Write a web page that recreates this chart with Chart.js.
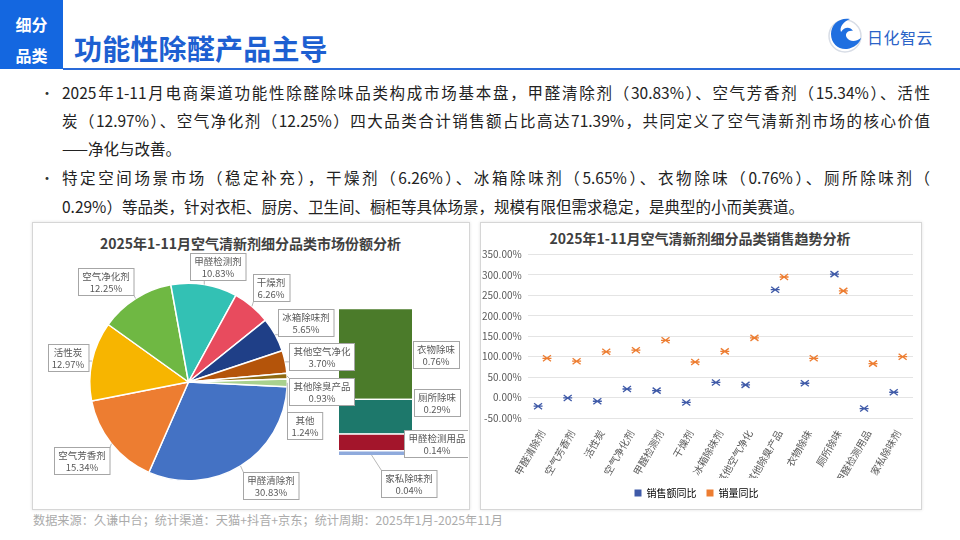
<!DOCTYPE html>
<html><head><meta charset="utf-8">
<script src="https://cdn.jsdelivr.net/npm/chart.js@4.4.1/dist/chart.umd.min.js"></script>
<style>
html,body{margin:0;padding:0}
body{width:960px;height:540px;position:relative;background:#fff;font-family:"Noto Sans CJK SC","Noto Sans",sans-serif;overflow:hidden;color:#222}
.abs{position:absolute}
#tag{left:0;top:0;width:63px;height:69px;background:#1467e0;color:#fff;font-weight:bold;font-size:16px;text-align:center}
#tag div{position:absolute;left:0;width:63px;line-height:20px}
#title{left:74px;top:30px;font-size:28px;font-weight:bold;color:#1d5fd1;line-height:36px;letter-spacing:0.2px}
#rule{left:63px;top:68px;width:897px;height:2px;background:#2a6ad8}
#logoText{left:867px;top:26px;font-size:16px;color:#2b63c8;line-height:22px;letter-spacing:0.5px}
.bl{position:absolute;left:40px;font-size:14px;line-height:24px;color:#333}
.ln{position:absolute;left:62px;width:868px;font-size:15.5px;line-height:24px;color:#222;white-space:nowrap}
.j{text-align:justify;text-align-last:justify;white-space:normal}
.panel{position:absolute;top:222px;height:286px;border:1px solid #d6d6d6;box-shadow:0 0 3px rgba(0,0,0,0.12);background:transparent}
.ctitle{position:absolute;font-size:14px;font-weight:bold;color:#404040;text-align:center;line-height:18px;white-space:nowrap}
#footer{left:33px;top:512px;font-size:12.2px;color:#ababab;line-height:16px;white-space:nowrap}
canvas{position:absolute}
</style>
</head><body>

<div id="tag" class="abs"><div style="top:14px">细分</div><div style="top:45px">品类</div></div>
<div id="title" class="abs">功能性除醛产品主导</div>
<div id="rule" class="abs"></div>
<svg class="abs" style="left:826px;top:14px" width="40" height="42" viewBox="0 0 40 42">
  <circle cx="19" cy="22" r="16" fill="none" stroke="#d8dde6" stroke-width="1.5"/>
  <path d="M24 5 C14 3 5 10 5 20 C5 30 13 36 21 35 C28 34 34 29 35 24 C30 28 24 28 21 24 C18 20 22 16 27 17 C24 12 18 13 15 18 C13 13 18 7 24 5 Z" fill="#1f6fe0"/>
</svg>
<div id="logoText" class="abs">日化智云</div>

<div class="bl" style="top:80px">•</div>
<div class="ln j" style="top:80px">2025年1-11月电商渠道功能性除醛除味品类构成市场基本盘，甲醛清除剂（30.83%）、空气芳香剂（15.34%）、活性</div>
<div class="ln j" style="top:108px">炭（12.97%）、空气净化剂（12.25%）四大品类合计销售额占比高达71.39%，共同定义了空气清新剂市场的核心价值</div>
<div class="ln" style="top:136px">——净化与改善。</div>
<div class="bl" style="top:165px">•</div>
<div class="ln j" style="top:165px">特定空间场景市场（稳定补充），干燥剂（6.26%）、冰箱除味剂（5.65%）、衣物除味（0.76%）、厕所除味剂（</div>
<div class="ln" style="top:194px">0.29%）等品类，针对衣柜、厨房、卫生间、橱柜等具体场景，规模有限但需求稳定，是典型的小而美赛道。</div>

<div class="panel" style="left:32px;width:436px"></div>
<div class="panel" style="left:480px;width:440px"></div>
<div class="ctitle" style="left:33px;width:435px;top:234px">2025年1-11月空气清新剂细分品类市场份额分析</div>
<div class="ctitle" style="left:480px;width:440px;top:229px">2025年1-11月空气清新剂细分品类销售趋势分析</div>

<canvas id="barOfPie" style="left:33px;top:222px;z-index:1" width="435" height="286"></canvas>
<canvas id="pie" style="left:33px;top:222px;z-index:2" width="435" height="286"></canvas>
<canvas id="trend" style="left:480px;top:222px;z-index:1" width="440" height="286"></canvas>

<div id="footer" class="abs">数据来源：久谦中台；统计渠道：天猫+抖音+京东；统计周期：2025年1月-2025年11月</div>

<script>
// ---------------- data ----------------
const pieCategories = ['甲醛清除剂','空气芳香剂','活性炭','空气净化剂','甲醛检测剂','干燥剂','冰箱除味剂','其他空气净化','其他除臭产品','其他'];
const pieShares = [30.83, 15.34, 12.97, 12.25, 10.83, 6.26, 5.65, 3.70, 0.93, 1.24];
const otherCategories = ['家私除味剂','甲醛检测用品','厕所除味','衣物除味'];
const otherShares = [0.04, 0.14, 0.29, 0.76];
const trendCategories = ['甲醛清除剂','空气芳香剂','活性炭','空气净化剂','甲醛检测剂','干燥剂','冰箱除味剂','其他空气净化','其他除臭产品','衣物除味','厕所除味','甲醛检测用品','家私除味剂'];
const salesYoY = [-21, -1, -9, 21, 17, -12, 37, 31, 264, 35, 302, -27, 13];
const volumeYoY = [96, 89, 112, 116, 140, 87, 113, 146, 295, 96, 261, 83, 100];
const trendSeriesNames = ['销售额同比','销量同比'];

// ---------------- styles / layout ----------------
const pieColors = ['#4472c4','#ed7d31','#f7b500','#6fb843','#33c1b4','#e84b5e','#1f3f87','#b4540a','#8f6a12','#a9d18e'];
const otherColors = ['#8faadc','#a3152b','#1d786b','#4b7b2a'];
const trendColors = ['#3f5aa8','#ed7d31'];
// callout box centres (canvas px) for pie slices and for the column segments
const pieLabelCentres = [[238,263],[49,238],[35,135],[73,59],[185,44],[238,65],[273,100],[289,134],[289,169],[272,203]];
const otherLabelCentres = [[376,261],[404,221],[404,180],[403,132]];
const labelFont = '9.5px "Noto Sans CJK SC", "Noto Sans", sans-serif';

Chart.defaults.font.family = '"Noto Sans CJK SC","Noto Sans",sans-serif';
Chart.defaults.animation = false;

function drawCallout(ctx, cx, cy, lines, anchor) {
  ctx.save();
  ctx.font = labelFont;
  const w = Math.max(...lines.map(s => ctx.measureText(s).width)) + 8;
  const h = 27;
  const x0 = Math.round(cx - w/2) + 0.5, y0 = Math.round(cy - h/2) + 0.5;
  if (anchor) {
    const px = Math.min(Math.max(anchor[0], x0), x0 + w);
    const py = Math.min(Math.max(anchor[1], y0), y0 + h);
    if (Math.hypot(px - anchor[0], py - anchor[1]) > 3) {
      ctx.strokeStyle = '#a6a6a6'; ctx.lineWidth = 0.8;
      ctx.beginPath(); ctx.moveTo(anchor[0], anchor[1]); ctx.lineTo(px, py); ctx.stroke();
    }
  }
  ctx.fillStyle = '#fff';
  ctx.fillRect(x0, y0, w, h);
  ctx.strokeStyle = '#a6a6a6'; ctx.lineWidth = 1;
  ctx.strokeRect(x0, y0, w, h);
  ctx.fillStyle = '#595959';
  ctx.textAlign = 'center'; ctx.textBaseline = 'middle';
  ctx.fillText(lines[0], cx, y0 + 7.5);
  ctx.fillText(lines[1], cx, y0 + 19.5);
  ctx.restore();
}

const pieLabelPlugin = {
  id: 'pieLabels',
  afterDatasetsDraw(chart) {
    const ctx = chart.ctx;
    chart.getDatasetMeta(0).data.forEach((arc, i) => {
      const p = arc.getProps(['x','y','startAngle','endAngle','outerRadius'], true);
      const mid = (p.startAngle + p.endAngle) / 2;
      const ax = p.x + Math.cos(mid) * p.outerRadius;
      const ay = p.y + Math.sin(mid) * p.outerRadius;
      const c = pieLabelCentres[i];
      drawCallout(ctx, c[0], c[1], [pieCategories[i], pieShares[i].toFixed(2) + '%'], [ax, ay]);
    });
  }
};

new Chart(document.getElementById('pie'), {
  type: 'pie',
  data: { labels: pieCategories, datasets: [{ data: pieShares, backgroundColor: pieColors, borderColor: '#ffffff', borderWidth: 1.5 }] },
  options: {
    responsive: false, rotation: 92.7,
    layout: { padding: { left: 56, right: 180, top: 60.5, bottom: 26.5 } },
    plugins: { legend: { display: false }, tooltip: { enabled: false } },
    events: []
  },
  plugins: [pieLabelPlugin]
});

const otherLabelPlugin = {
  id: 'otherLabels',
  afterDatasetsDraw(chart) {
    const ctx = chart.ctx;
    otherShares.forEach((v, i) => {
      const bar = chart.getDatasetMeta(i).data[0];
      const p = bar.getProps(['x','y','base','width'], true);
      const anchor = i === 0 ? [p.x - 4, p.base] : [p.x + p.width/2, (p.y + p.base)/2];
      const c = otherLabelCentres[i];
      drawCallout(ctx, c[0], c[1], [otherCategories[i], v.toFixed(2) + '%'], anchor);
    });
  }
};

new Chart(document.getElementById('barOfPie'), {
  type: 'bar',
  data: {
    labels: ['其他'],
    datasets: otherCategories.map((name, i) => ({
      label: name, data: [otherShares[i]], backgroundColor: otherColors[i],
      borderColor: '#ffffff', borderWidth: { top: 1.5 }, borderSkipped: false,
      barPercentage: 1, categoryPercentage: 1
    }))
  },
  options: {
    responsive: false,
    layout: { padding: { left: 306, right: 56, top: 86, bottom: 53 } },
    scales: {
      x: { stacked: true, display: false },
      y: { stacked: true, display: false, min: 0, max: otherShares.reduce((a, b) => a + b, 0) }
    },
    plugins: { legend: { display: false }, tooltip: { enabled: false } },
    events: []
  },
  plugins: [otherLabelPlugin]
});

// ---------------- trend chart ----------------
function drawMarker(ctx, x, y, color) {
  ctx.save();
  ctx.strokeStyle = color; ctx.lineWidth = 1.3;
  ctx.beginPath();
  ctx.moveTo(x - 4, y - 3); ctx.lineTo(x + 4, y + 3);
  ctx.moveTo(x - 4, y + 3); ctx.lineTo(x + 4, y - 3);
  ctx.moveTo(x - 4.5, y); ctx.lineTo(x + 4.5, y);
  ctx.stroke();
  ctx.restore();
}
const markerPlugin = {
  id: 'markers',
  afterDatasetsDraw(chart) {
    chart.data.datasets.forEach((ds, di) => {
      chart.getDatasetMeta(di).data.forEach(el => {
        const p = el.getProps(['x','y'], true);
        drawMarker(chart.ctx, p.x, p.y, trendColors[di]);
      });
    });
  }
};

new Chart(document.getElementById('trend'), {
  type: 'bar',
  data: {
    labels: trendCategories,
    datasets: [
      { label: trendSeriesNames[0], data: salesYoY, backgroundColor: 'rgba(0,0,0,0)', borderWidth: 0 },
      { label: trendSeriesNames[1], data: volumeYoY, backgroundColor: 'rgba(0,0,0,0)', borderWidth: 0 }
    ]
  },
  options: {
    responsive: false,
    datasets: { bar: { categoryPercentage: 0.6, barPercentage: 1 } },
    layout: { padding: { left: 0, right: 7, top: 32.5, bottom: 0 } },
    scales: {
      x: {
        grid: { display: false }, border: { display: false },
        ticks: { autoSkip: false, maxRotation: 60, minRotation: 60, color: '#595959', font: { size: 10 }, padding: 2 },
        afterFit(s) { s.height = 60; }
      },
      y: {
        min: -50, max: 350,
        grid: { color: '#e4e4e4', drawTicks: false }, border: { display: false },
        ticks: { stepSize: 50, color: '#595959', font: { size: 10 }, padding: 6, callback: v => v.toFixed(2) + '%' },
        afterFit(s) { s.width = 47.7; }
      }
    },
    plugins: {
      tooltip: { enabled: false },
      legend: {
        position: 'bottom',
        labels: {
          boxWidth: 7, boxHeight: 7, padding: 10, color: '#595959', font: { size: 10 },
          generateLabels: chart => chart.data.datasets.map((ds, i) => ({
            text: ds.label, fillStyle: trendColors[i], strokeStyle: trendColors[i], lineWidth: 0, datasetIndex: i, hidden: false
          }))
        }
      }
    },
    events: []
  },
  plugins: [markerPlugin]
});
</script>
</body></html>
